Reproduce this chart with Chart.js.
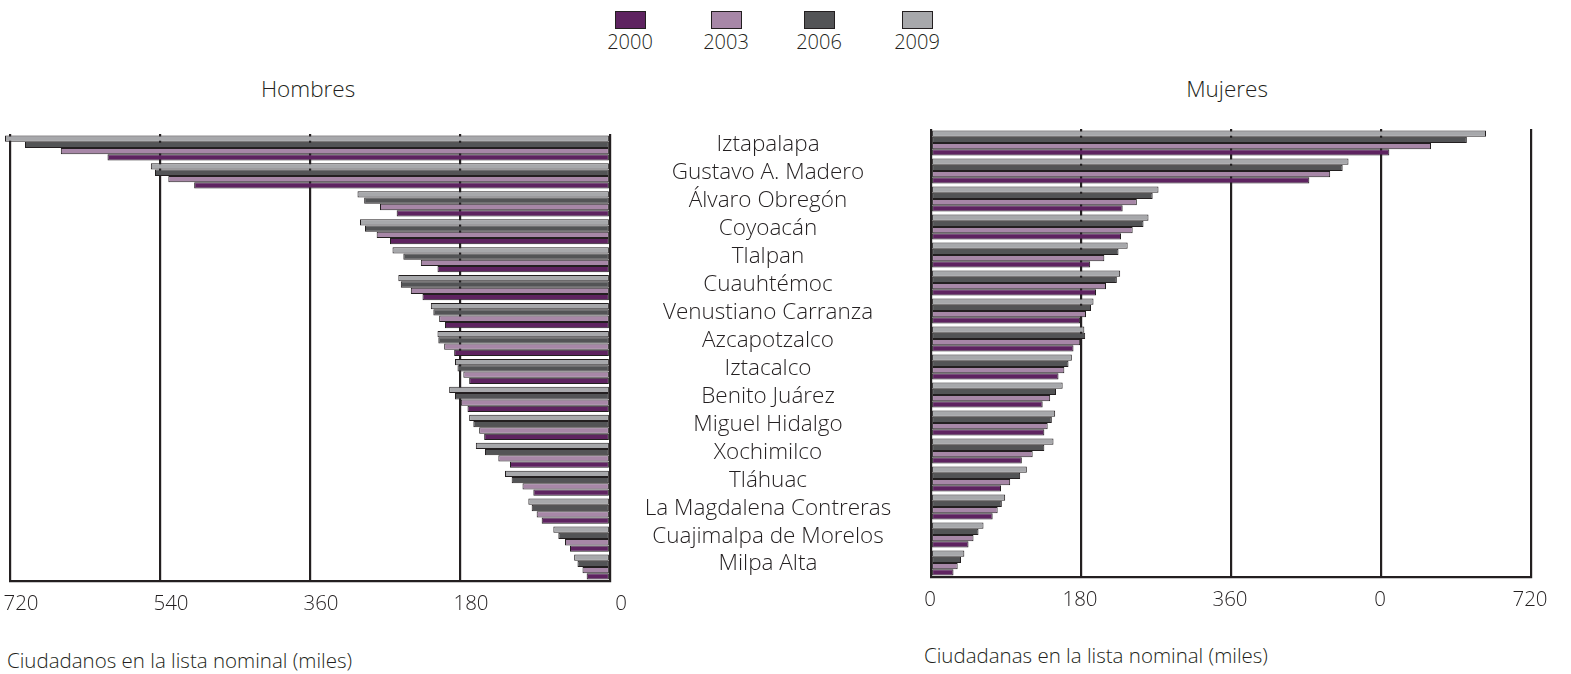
<!DOCTYPE html>
<html>
<head>
<meta charset="utf-8">
<script src="https://cdn.jsdelivr.net/npm/chart.js@4.4.1/dist/chart.umd.min.js"></script>
<style>
    body { margin: 0; width: 1571px; height: 674px; position: relative; overflow: hidden; background: #fff; font-family: 'Open Sans', sans-serif; font-weight: 300; color: #231f20; }
    canvas { position: absolute; top: 0; }
    #hombresChart { left: 0; }
    #mujeresChart { left: 900px; }
    .title { position: absolute; top: 74px; font-size: 22.5px; line-height: 30px; transform: translateX(-50%); white-space: nowrap; }
    .axis-title { position: absolute; font-size: 20.5px; line-height: 26px; white-space: nowrap; }
    .legend-item { position: absolute; top: 11px; width: 60px; margin-left: -30px; text-align: center; }
    .legend-box { width: 29px; height: 16px; margin: 0 auto; border: 1px solid #231f20; }
    .legend-label { font-size: 20px; line-height: 24px; margin-top: 1px; }
</style>
</head>
<body>
<div class="title" style="left:308px">Hombres</div>
<div class="title" style="left:1227px">Mujeres</div>
<div class="axis-title" style="left:7px;top:647px">Ciudadanos en la lista nominal (miles)</div>
<div class="axis-title" style="left:924px;top:642px">Ciudadanas en la lista nominal (miles)</div>
<div id="legend"></div>
<canvas id="hombresChart" width="930" height="674"></canvas>
<canvas id="mujeresChart" width="671" height="674"></canvas>
<script>
// Delegaciones (top to bottom)
const categories = ['Iztapalapa', 'Gustavo A. Madero', 'Álvaro Obregón', 'Coyoacán', 'Tlalpan', 'Cuauhtémoc',
    'Venustiano Carranza', 'Azcapotzalco', 'Iztacalco', 'Benito Juárez', 'Miguel Hidalgo', 'Xochimilco',
    'Tláhuac', 'La Magdalena Contreras', 'Cuajimalpa de Morelos', 'Milpa Alta'];

const years = ['2000', '2003', '2006', '2009'];
const yearColors = ['#5e2360', '#a787a7', '#535456', '#a7a8ab'];

// Hombres (miles)
const hombres2000 = [603, 499, 256, 264, 207, 225, 198, 187, 169, 171, 151, 120, 92, 82, 48, 28];
const hombres2003 = [659, 530, 276, 280, 227, 239, 205, 199, 176, 179, 157, 134, 105, 88, 54, 33];
const hombres2006 = [702, 546, 295, 294, 248, 251, 212, 206, 183, 186, 164, 150, 118, 94, 62, 39];
const hombres2009 = [726, 551, 303, 300, 261, 254, 215, 207, 186, 193, 169, 161, 126, 98, 68, 43];

// Mujeres (miles)
const mujeres2000 = [550, 454, 230, 228, 191, 198, 179, 171, 153, 134, 136, 109, 84, 74, 45, 27];
const mujeres2003 = [600, 479, 247, 242, 208, 210, 186, 179, 160, 143, 140, 122, 95, 80, 51, 32];
const mujeres2006 = [643, 494, 266, 255, 225, 223, 192, 185, 165, 150, 145, 136, 107, 85, 57, 36];
const mujeres2009 = [666, 501, 273, 261, 236, 227, 195, 184, 169, 158, 149, 147, 115, 89, 63, 40];

// Axis ticks
const axisMax = 720;
const axisStep = 180;
const hombresTickLabels = ['0', '180', '360', '540', '720'];
const mujeresTickLabels = ['0', '180', '360', '0', '720'];

const INK = '#231f20';
const FONT = "'Open Sans', sans-serif";

// Legend (box above, year below)
const legendCenters = [630, 726, 819, 917];
const legend = document.getElementById('legend');
years.forEach((y, i) => {
    const item = document.createElement('div');
    item.className = 'legend-item';
    item.style.left = legendCenters[i] + 'px';
    item.innerHTML = `<div class="legend-box" style="background:${yearColors[i]}"></div><div class="legend-label">${y}</div>`;
    legend.appendChild(item);
});

function makeDatasets(series) {
    // 2009 on top of each group, 2000 at the bottom
    return [3, 2, 1, 0].map(i => ({
        label: years[i],
        data: series[i],
        backgroundColor: yearColors[i],
        borderColor: INK,
        borderWidth: 1,
        borderSkipped: false,
        categoryPercentage: 0.9,
        barPercentage: 1.0,
        clip: false
    }));
}

function xScale(reverse, labels, offset) {
    return {
        type: 'linear',
        reverse: reverse,
        min: 0,
        max: axisMax,
        grid: { color: INK, lineWidth: 2.2, drawTicks: false },
        border: { display: true, color: INK, width: 2.2 },
        ticks: {
            stepSize: axisStep,
            padding: 11,
            labelOffset: offset,
            color: INK,
            font: { family: FONT, size: 20.5, weight: 300 },
            callback: (value) => labels[value / axisStep]
        },
        afterFit: (scale) => {
            scale.height = 40;
            scale.paddingLeft = 0;
            scale.paddingRight = 0;
        }
    };
}

// Category labels centred between the two panels
const measure = document.createElement('canvas').getContext('2d');
measure.font = '300 22.5px ' + FONT;
const widestLabel = Math.max(...categories.map(c => measure.measureText(c).width));
const labelCenterOffset = 158;

Chart.defaults.animation = false;

new Chart(document.getElementById('hombresChart'), {
    type: 'bar',
    data: {
        labels: categories,
        datasets: makeDatasets([hombres2000, hombres2003, hombres2006, hombres2009])
    },
    options: {
        indexAxis: 'y',
        responsive: false,
        layout: { padding: { left: 10, right: 0, top: 134, bottom: 53 } },
        plugins: { legend: { display: false }, tooltip: { enabled: false } },
        scales: {
            x: xScale(true, hombresTickLabels, 11),
            y: {
                position: 'right',
                grid: { display: false, drawTicks: false },
                border: { display: false },
                ticks: {
                    autoSkip: false,
                    crossAlign: 'center',
                    padding: labelCenterOffset - widestLabel / 2,
                    labelOffset: -3,
                    color: INK,
                    font: { family: FONT, size: 22.5, weight: 300 }
                },
                afterFit: (scale) => { scale.width = 320; }
            }
        }
    }
});

new Chart(document.getElementById('mujeresChart'), {
    type: 'bar',
    data: {
        labels: categories,
        datasets: makeDatasets([mujeres2000, mujeres2003, mujeres2006, mujeres2009])
    },
    options: {
        indexAxis: 'y',
        responsive: false,
        layout: { padding: { left: 31, right: 40, top: 129, bottom: 57 } },
        plugins: { legend: { display: false }, tooltip: { enabled: false } },
        scales: {
            x: xScale(false, mujeresTickLabels, -1),
            y: { display: false }
        }
    }
});
</script>
</body>
</html>
